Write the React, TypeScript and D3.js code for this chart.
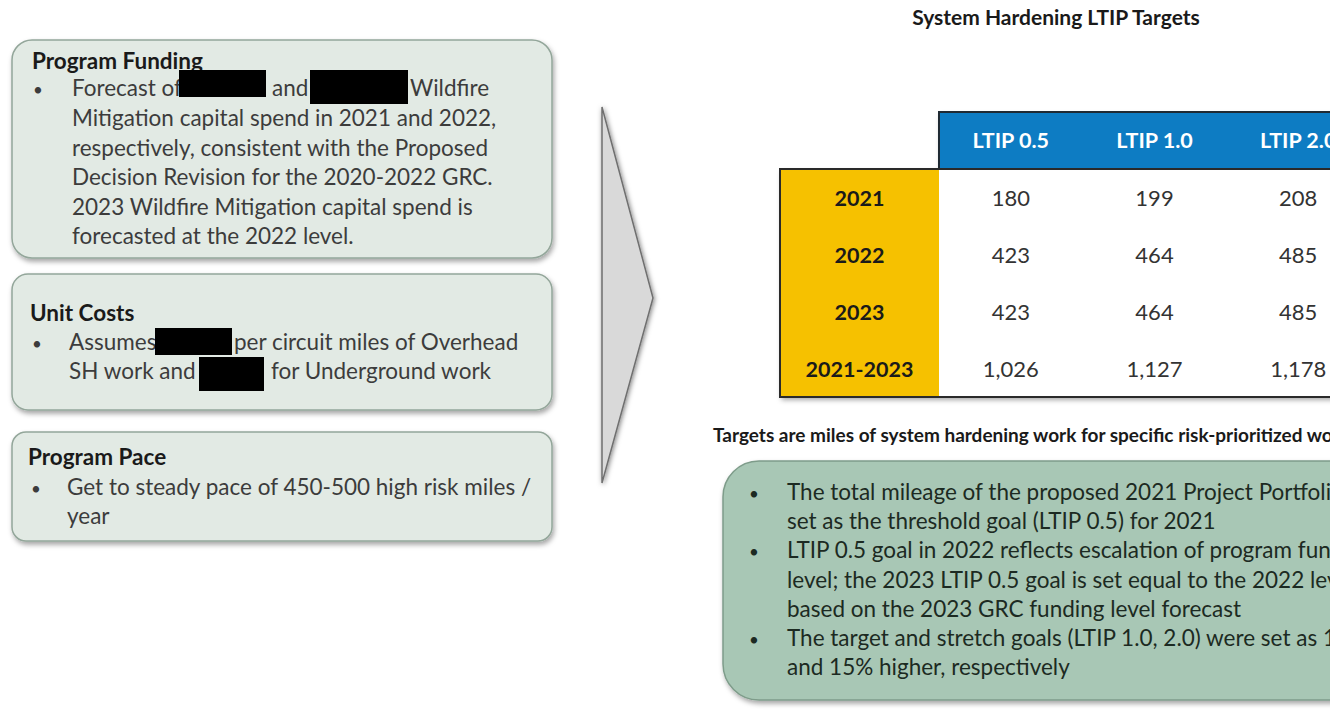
import * as d3 from "d3";

// table data (miles)
const years = ["2021", "2022", "2023", "2021-2023"];
const levels = ["LTIP 0.5", "LTIP 1.0", "LTIP 2.0"];
const ltip05 = [180, 423, 423, 1026];
const ltip10 = [199, 464, 464, 1127];
const ltip20 = [208, 485, 485, 1178];

const fundingLines = [
  "Mitigation capital spend in 2021 and 2022,",
  "respectively, consistent with the Proposed",
  "Decision Revision for the 2020-2022 GRC.",
  "2023 Wildfire Mitigation capital spend is",
  "forecasted at the 2022 level.",
];
const paceLines = ["Get to steady pace of 450-500 high risk miles /", "year"];
const noteLines = [
  { bullet: true, text: "The total mileage of the proposed 2021 Project Portfolio is" },
  { bullet: false, text: "set as the threshold goal (LTIP 0.5) for 2021" },
  { bullet: true, text: "LTIP 0.5 goal in 2022 reflects escalation of program funding" },
  { bullet: false, text: "level; the 2023 LTIP 0.5 goal is set equal to the 2022 level" },
  { bullet: false, text: "based on the 2023 GRC funding level forecast" },
  { bullet: true, text: "The target and stretch goals (LTIP 1.0, 2.0) were set as 10%" },
  { bullet: false, text: "and 15% higher, respectively" },
];

const W = 1338;
const H = 714;
const FONT = "Lato, 'Open Sans', sans-serif";
const boxFill = "#e2eae4";
const boxStroke = "#93a69a";
const bodyColor = "#3c3c3c";
const BODY = 22.5;
const HEAD = 22.5;

const fmt = d3.format(",");

export default function App() {
  const values = [ltip05, ltip10, ltip20];

  const col = d3.scaleBand().domain(levels).range([939, 1370]);
  const row = d3.scaleBand().domain(years).range([169, 397]);
  const yTop = 112;
  const xLeft = 780;

  const lineY = (start: number, step: number) => (i: number) => start + i * step;
  const fy = lineY(126, 29.6);
  const ny = lineY(500, 29.2);

  return (
    <svg
      width={W}
      height={H}
      style={{ position: "absolute", left: 0, top: 0, background: "#fff" }}
      fontFamily={FONT}
    >
      <defs>
        <filter id="shadow" x="-10%" y="-10%" width="130%" height="140%">
          <feDropShadow dx="1.5" dy="3" stdDeviation="2.5" floodColor="#000" floodOpacity="0.35" />
        </filter>
        <filter id="soft" x="-30%" y="-10%" width="180%" height="130%">
          <feDropShadow dx="1" dy="1" stdDeviation="2.5" floodColor="#000" floodOpacity="0.5" />
        </filter>
        <clipPath id="right">
          <rect x={0} y={0} width={1330} height={H} />
        </clipPath>
      </defs>

      {/* left boxes */}
      <rect x={12} y={40} width={540} height={218} rx={20} fill={boxFill} stroke={boxStroke} strokeWidth={1.5} filter="url(#shadow)" />
      <text x={32} y={69} fontSize={HEAD} fontWeight="bold" fill="#1a1a1a">Program Funding</text>
      <text x={33} y={96} fontSize={17} fill={bodyColor}>•</text>
      <text x={72} y={96} fontSize={BODY} fill={bodyColor}>Forecast of</text>
      <text x={272} y={96} fontSize={BODY} fill={bodyColor}>and</text>
      <text x={410} y={96} fontSize={BODY} fill={bodyColor}>Wildfire</text>
      <rect x={179} y={70} width={87} height={27} fill="#000" />
      <rect x={310} y={70} width={98} height={34} fill="#000" />
      {fundingLines.map((t, i) => (
        <text key={t} x={72} y={fy(i)} fontSize={BODY} fill={bodyColor}>{t}</text>
      ))}

      <rect x={12} y={274} width={540} height={136} rx={16} fill={boxFill} stroke={boxStroke} strokeWidth={1.5} filter="url(#shadow)" />
      <text x={30} y={321} fontSize={HEAD} fontWeight="bold" fill="#1a1a1a">Unit Costs</text>
      <text x={32} y={350} fontSize={17} fill={bodyColor}>•</text>
      <text x={69} y={350} fontSize={BODY} fill={bodyColor}>Assumes</text>
      <text x={234} y={350} fontSize={BODY} fill={bodyColor}>per circuit miles of Overhead</text>
      <text x={69} y={379} fontSize={BODY} fill={bodyColor}>SH work and</text>
      <text x={271} y={379} fontSize={BODY} fill={bodyColor}>for Underground work</text>
      <rect x={155} y={328} width={77} height={27} fill="#000" />
      <rect x={199} y={357} width={65} height={34} fill="#000" />

      <rect x={12} y={432} width={540} height={109} rx={14} fill={boxFill} stroke={boxStroke} strokeWidth={1.5} filter="url(#shadow)" />
      <text x={28} y={465} fontSize={HEAD} fontWeight="bold" fill="#1a1a1a">Program Pace</text>
      <text x={31} y={495} fontSize={17} fill={bodyColor}>•</text>
      {paceLines.map((t, i) => (
        <text key={t} x={67} y={495 + i * 29} fontSize={BODY} fill={bodyColor}>{t}</text>
      ))}

      {/* arrow */}
      <path d="M602,107 L653,298 L602,483 Z" fill="#d9d9d9" stroke="#6f6f6f" strokeWidth={1.5} filter="url(#soft)" />

      {/* right side, cropped at the slide edge */}
      <g clipPath="url(#right)">
        <text x={1056} y={25} textAnchor="middle" fontSize={21} fontWeight="bold" fill="#1a1a1a">
          System Hardening LTIP Targets
        </text>

        <g filter="url(#shadow)">
          <rect x={xLeft} y={row.range()[0]} width={1400 - xLeft} height={row.range()[1] - row.range()[0]} fill="#fff" />
          <rect x={col.range()[0]} y={yTop} width={1400 - col.range()[0]} height={row.range()[0] - yTop} fill="#0e7cc3" />
        </g>
        <rect x={xLeft} y={row.range()[0]} width={col.range()[0] - xLeft} height={row.range()[1] - row.range()[0]} fill="#f6c100" />
        <path
          d={`M${col.range()[0]},${row.range()[0]} V${yTop} H1400`}
          fill="none"
          stroke="#1f2a33"
          strokeWidth={2}
        />
        <path
          d={`M1400,${row.range()[0]} H${xLeft} V${row.range()[1]} H1400`}
          fill="none"
          stroke="#2a2a2a"
          strokeWidth={2}
        />

        {levels.map((l) => (
          <text
            key={l}
            x={(col(l) ?? 0) + col.bandwidth() / 2}
            y={yTop + (row.range()[0] - yTop) / 2 + 7}
            textAnchor="middle"
            fontSize={21.5}
            fontWeight="bold"
            fill="#fff"
          >
            {l}
          </text>
        ))}
        {years.map((y, r) => (
          <g key={y}>
            <text
              x={xLeft + (col.range()[0] - xLeft) / 2}
              y={(row(y) ?? 0) + row.bandwidth() / 2 + 8}
              textAnchor="middle"
              fontSize={21.5}
              fontWeight="bold"
              fill="#1a1a1a"
            >
              {y}
            </text>
            {levels.map((l, c) => (
              <text
                key={l}
                x={(col(l) ?? 0) + col.bandwidth() / 2}
                y={(row(y) ?? 0) + row.bandwidth() / 2 + 8}
                textAnchor="middle"
                fontSize={22}
                fill="#333"
              >
                {fmt(values[c][r])}
              </text>
            ))}
          </g>
        ))}

        <text x={713} y={442} fontSize={19} fontWeight="bold" fill="#1a1a1a">
          Targets are miles of system hardening work for specific risk-prioritized work
        </text>

        <rect x={723} y={461} width={700} height={239} rx={36} fill="#a8c7b5" stroke="#7e9c8a" strokeWidth={1.5} filter="url(#shadow)" />
        {noteLines.map((n, i) => (
          <g key={i}>
            {n.bullet && (
              <text x={749} y={ny(i)} fontSize={17} fill="#1c2a22">•</text>
            )}
            <text x={787} y={ny(i)} fontSize={BODY} fill="#1c2a22">{n.text}</text>
          </g>
        ))}
      </g>
    </svg>
  );
}
